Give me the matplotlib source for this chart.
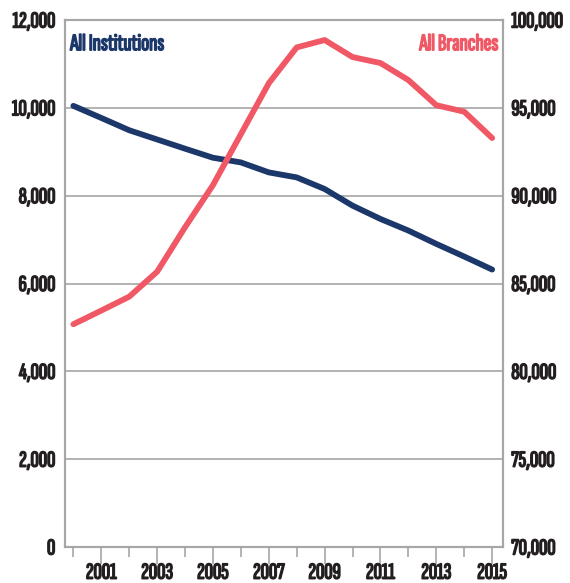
import numpy as np
import matplotlib
matplotlib.use("Agg")
import matplotlib.pyplot as plt
import matplotlib.patheffects as pe
from matplotlib.ticker import FuncFormatter, MultipleLocator

# institutions (left axis) and branches (right axis), 2000-2015
years = list(range(2000, 2016))
institutions = [10045, 9770, 9490, 9280, 9070, 8864, 8757, 8530,
                8416, 8152, 7773, 7470, 7205, 6902, 6614, 6318]
branches = [82680, 83460, 84250, 85670, 88200, 90600, 93500, 96400,
            98440, 98860, 97890, 97550, 96580, 95150, 94780, 93280]

navy = '#1c3769'
red = '#f05865'
grey = '#a6a6a6'
txt = '#231f20'

plt.rcParams['font.family'] = ['Sofia Sans Extra Condensed', 'DejaVu Sans']
fs = 16.5

fig = plt.figure(figsize=(5.7, 5.83), dpi=100)
ax = fig.add_axes([0.114, 0.0617, 0.7685, 0.904])
ax2 = ax.twinx()

ax.plot(years, institutions, color=navy, lw=4.2, solid_capstyle='round', zorder=3)
ax2.plot(years, branches, color=red, lw=4.2, solid_capstyle='round', zorder=3)

ax.set_xlim(1999.7, 2015.39)
ax.set_ylim(0, 12000)
ax2.set_ylim(70000, 100000)
ax.yaxis.set_major_locator(MultipleLocator(2000))
ax2.yaxis.set_major_locator(MultipleLocator(5000))
fmt = FuncFormatter(lambda v, p: '{:,.0f}'.format(v))
ax.yaxis.set_major_formatter(fmt)
ax2.yaxis.set_major_formatter(fmt)

ax.set_xticks([y for y in years if y % 2 == 1])
ax.set_xticks([y for y in years if y % 2 == 0], minor=True)
ax.tick_params(axis='x', which='major', length=12, color=grey, width=1.2,
               labelsize=fs, labelcolor=txt, pad=0)
ax.tick_params(axis='x', which='minor', length=7, color=grey, width=1.2)
ax.tick_params(axis='y', length=0, labelsize=fs, labelcolor=txt, pad=7)
ax2.tick_params(axis='y', length=0, labelsize=fs, labelcolor=txt, pad=6)

# thicken the thin condensed face with a same-colour outline
def heavy(c):
    return [pe.withStroke(linewidth=1.1, foreground=c)]

for lab in ax.get_xticklabels() + ax.get_yticklabels() + ax2.get_yticklabels():
    lab.set_fontweight('bold')
    lab.set_path_effects(heavy(txt))

ax.grid(axis='y', color=grey, lw=1.2)
ax.set_axisbelow(True)
for a in (ax, ax2):
    for s in a.spines.values():
        s.set_color(grey)
        s.set_linewidth(1.5)

ax.text(0.012, 0.975, 'All Institutions', transform=ax.transAxes, color=navy,
        fontsize=fs + 0.5, fontweight='bold', ha='left', va='top',
        path_effects=heavy(navy))
ax2.text(0.99, 0.975, 'All Branches', transform=ax2.transAxes, color=red,
         fontsize=fs + 0.5, fontweight='bold', ha='right', va='top',
         path_effects=heavy(red))

fig.savefig('out.png', dpi=100)
